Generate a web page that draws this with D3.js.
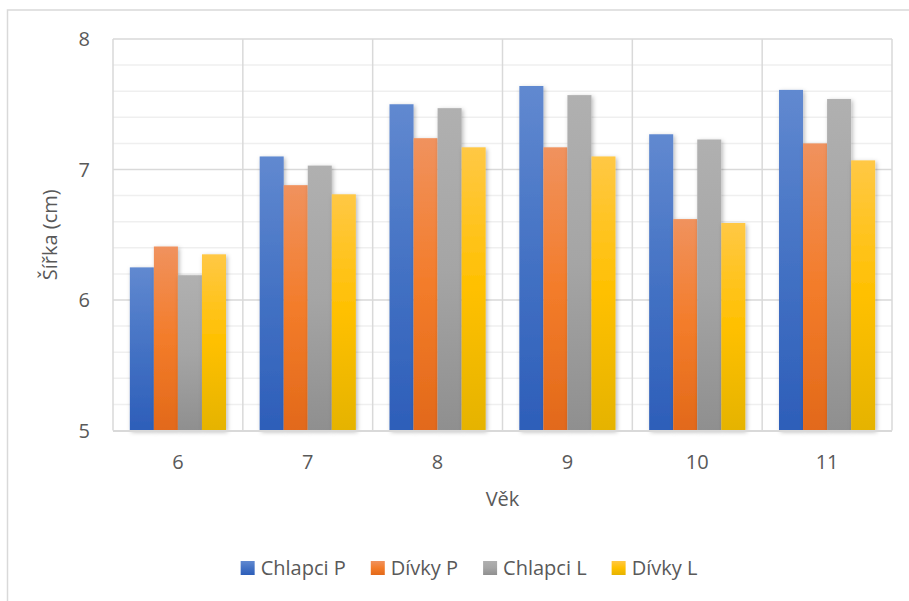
<!DOCTYPE html>
<html>
<head>
<meta charset="utf-8">
<script src="https://cdn.jsdelivr.net/npm/d3@7"></script>
<style>
  html, body { margin: 0; padding: 0; background: #fff; }
  svg { display: block; }
  text { font-family: "Open Sans", "Noto Sans", sans-serif; fill: #595959; }
</style>
</head>
<body>
<svg id="chart" width="909" height="601"></svg>
<script>
// Age groups (years)
const ages = ["6", "7", "8", "9", "10", "11"];
// Series names
const seriesNames = ["Chlapci P", "Dívky P", "Chlapci L", "Dívky L"];
// Mean width (cm) per age, one array per series
const chlapciP = [6.25, 7.10, 7.50, 7.64, 7.27, 7.61];
const divkyP   = [6.41, 6.88, 7.24, 7.17, 6.62, 7.20];
const chlapciL = [6.19, 7.03, 7.47, 7.57, 7.23, 7.54];
const divkyL   = [6.35, 6.81, 7.17, 7.10, 6.59, 7.07];
const yTicks = [5, 6, 7, 8];

const seriesValues = [chlapciP, divkyP, chlapciL, divkyL];
// light / base / dark shades for each series gradient
const palette = [
  ["#6189d0", "#4472c4", "#2d5eb9"],
  ["#f0925e", "#f37c2a", "#e2691a"],
  ["#b0b0b0", "#a5a5a5", "#8f8f8f"],
  ["#ffc845", "#ffc000", "#e5b300"]
];

const svg = d3.select("#chart");
const plot = { left: 113, right: 892, top: 39, bottom: 430.5 };
const fs = 20;

const defs = svg.append("defs");
palette.forEach((c, i) => {
  const g = defs.append("linearGradient")
    .attr("id", "grad" + i).attr("x1", 0).attr("y1", 0).attr("x2", 0).attr("y2", 1);
  g.append("stop").attr("offset", "0%").attr("stop-color", c[0]);
  g.append("stop").attr("offset", "50%").attr("stop-color", c[1]);
  g.append("stop").attr("offset", "100%").attr("stop-color", c[2]);
});
const shadow = defs.append("filter").attr("id", "shadow")
  .attr("x", "-30%").attr("y", "-10%").attr("width", "160%").attr("height", "120%");
shadow.append("feDropShadow").attr("dx", 1.5).attr("dy", 1.5)
  .attr("stdDeviation", 2.2).attr("flood-color", "#000").attr("flood-opacity", 0.28);

// chart area frame
svg.append("rect").attr("x", 7.5).attr("y", 10).attr("width", 1000).attr("height", 1000)
  .attr("fill", "#fff").attr("stroke", "#d9d9d9").attr("stroke-width", 1.5);

const x = d3.scaleBand().domain(ages).range([plot.left, plot.right]).padding(0);
const xs = d3.scaleBand().domain(d3.range(seriesNames.length))
  .range([0, x.bandwidth()]).paddingInner(0).paddingOuter(0.7);
const y = d3.scaleLinear().domain([5, 8]).range([plot.bottom, plot.top]);

// minor gridlines every 0.2
const minor = d3.range(5, 8.0001, 0.2).filter(v => Math.abs(v - Math.round(v)) > 1e-6);
svg.append("g").selectAll("line").data(minor).join("line")
  .attr("x1", plot.left).attr("x2", plot.right)
  .attr("y1", d => y(d)).attr("y2", d => y(d))
  .attr("stroke", "#efefef").attr("stroke-width", 1.5);

// major gridlines
svg.append("g").selectAll("line").data(yTicks.slice(1)).join("line")
  .attr("x1", plot.left).attr("x2", plot.right)
  .attr("y1", d => y(d)).attr("y2", d => y(d))
  .attr("stroke", "#d9d9d9").attr("stroke-width", 1.5);

// vertical category gridlines
const bounds = ages.map(a => x(a)).concat([plot.right]);
svg.append("g").selectAll("line").data(bounds).join("line")
  .attr("x1", d => d).attr("x2", d => d)
  .attr("y1", plot.top).attr("y2", plot.bottom)
  .attr("stroke", "#d9d9d9").attr("stroke-width", 1.5);

// bars
const groups = svg.append("g").selectAll("g").data(seriesValues).join("g")
  .attr("fill", (d, i) => `url(#grad${i})`)
  .attr("filter", "url(#shadow)");
groups.selectAll("rect").data((vals, si) => vals.map((v, ai) => ({ v, ai, si }))).join("rect")
  .attr("x", d => x(ages[d.ai]) + xs(d.si))
  .attr("width", xs.bandwidth())
  .attr("y", d => y(d.v))
  .attr("height", d => y(5) - y(d.v));

// category axis line
svg.append("line").attr("x1", plot.left).attr("x2", plot.right)
  .attr("y1", plot.bottom + 0.5).attr("y2", plot.bottom + 0.5)
  .attr("stroke", "#d9d9d9").attr("stroke-width", 1.8);

// y tick labels
svg.append("g").selectAll("text").data(yTicks).join("text")
  .attr("x", 90).attr("y", d => y(d)).attr("dy", "0.35em")
  .attr("text-anchor", "end").attr("font-size", fs).text(d => d);

// x tick labels
svg.append("g").selectAll("text").data(ages).join("text")
  .attr("x", d => x(d) + x.bandwidth() / 2).attr("y", 462).attr("dy", "0.35em")
  .attr("text-anchor", "middle").attr("font-size", fs).text(d => d);

// axis titles
svg.append("text").attr("x", (plot.left + plot.right) / 2).attr("y", 499).attr("dy", "0.35em")
  .attr("text-anchor", "middle").attr("font-size", fs).text("Věk");
svg.append("text")
  .attr("transform", `translate(50,${(plot.top + plot.bottom) / 2}) rotate(-90)`)
  .attr("dy", "0.35em").attr("text-anchor", "middle").attr("font-size", fs).text("Šířka (cm)");

// legend
const legend = svg.append("g");
const items = legend.selectAll("g").data(seriesNames).join("g");
items.append("rect").attr("width", 14).attr("height", 14).attr("y", -7)
  .attr("fill", (d, i) => `url(#grad${i})`);
items.append("text").attr("x", 20).attr("dy", "0.35em").attr("font-size", fs).text(d => d);
let cx = 0;
items.each(function () {
  const w = 20 + this.querySelector("text").getComputedTextLength();
  d3.select(this).attr("transform", `translate(${cx},0)`);
  cx += w + 25;
});
const total = cx - 25;
legend.attr("transform", `translate(${469 - total / 2},568)`);
</script>
</body>
</html>
